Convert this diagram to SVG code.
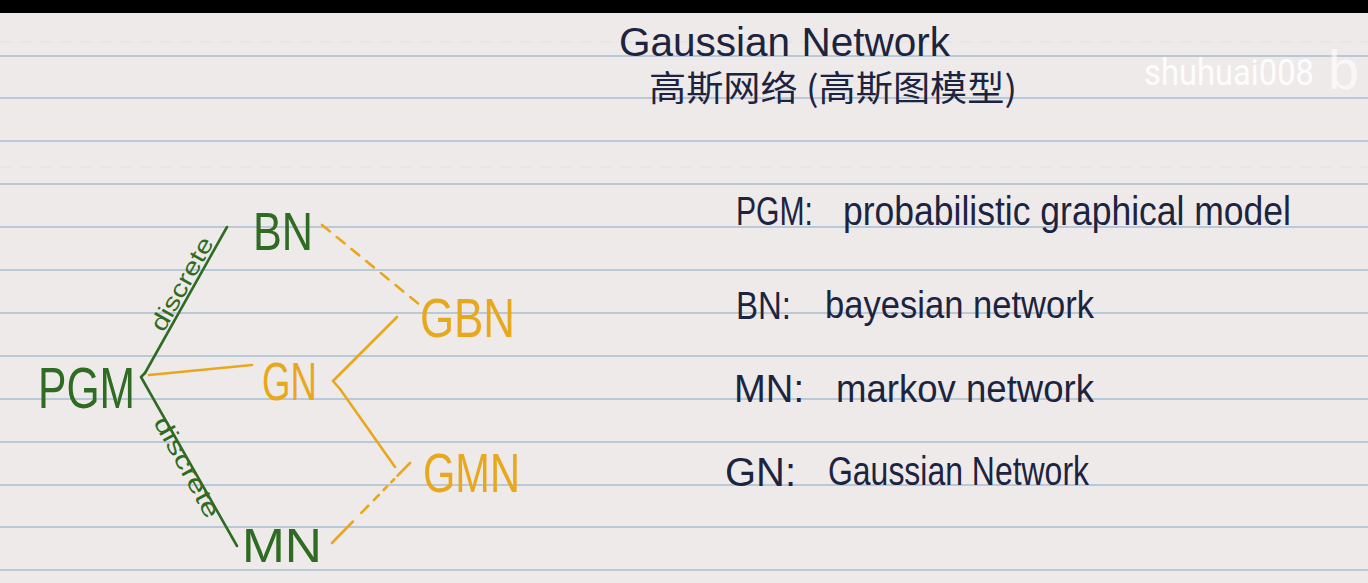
<svg xmlns="http://www.w3.org/2000/svg" width="1368" height="583" viewBox="0 0 1368 583">
<defs>
<style>
.rule{stroke:#b9c9d8;stroke-width:2}
.faint{stroke:#e7e3e5;stroke-width:1.5;stroke-dasharray:12 8}
.hand{font-family:"Liberation Sans","DejaVu Sans",sans-serif;font-weight:normal}
.navy{fill:#1c2440}
.green{fill:#2f6b22}
.orange{fill:#e8a81e}
.gline{stroke:#2f6b22;stroke-width:2.6;fill:none;stroke-linecap:round;stroke-linejoin:round}
.oline{stroke:#e8a81e;stroke-width:2.6;fill:none;stroke-linecap:round;stroke-linejoin:round}
.cjk{font-family:"Noto Sans CJK SC","Noto Sans CJK TC",sans-serif}
</style>
</defs>
<rect width="1368" height="583" fill="#efeaea"/>
<rect width="1368" height="13" fill="#000"/>
<g id="paper">
<line class="faint" x1="0" y1="42" x2="1368" y2="42"/>
<line class="faint" x1="0" y1="167" x2="1368" y2="167"/>
<line class="rule" x1="0" y1="56" x2="1368" y2="56"/>
<line class="rule" x1="0" y1="98" x2="1368" y2="98"/>
<line class="rule" x1="0" y1="141" x2="1368" y2="141"/>
<line class="rule" x1="0" y1="184" x2="1368" y2="184"/>
<line class="rule" x1="0" y1="227" x2="1368" y2="227"/>
<line class="rule" x1="0" y1="270" x2="1368" y2="270"/>
<line class="rule" x1="0" y1="313" x2="1368" y2="313"/>
<line class="rule" x1="0" y1="356" x2="1368" y2="356"/>
<line class="rule" x1="0" y1="399" x2="1368" y2="399"/>
<line class="rule" x1="0" y1="442" x2="1368" y2="442"/>
<line class="rule" x1="0" y1="485" x2="1368" y2="485"/>
<line class="rule" x1="0" y1="527" x2="1368" y2="527"/>
<line class="rule" x1="0" y1="570" x2="1368" y2="570"/>
</g>
<g id="title">
<text class="hand navy" x="619" y="56" font-size="41" textLength="331" lengthAdjust="spacingAndGlyphs">Gaussian Network</text>
<text class="cjk navy" x="649" y="101" font-size="35" textLength="368" lengthAdjust="spacingAndGlyphs">高斯网络 (高斯图模型)</text>
</g>
<g id="watermark" fill="#ffffff">
<text x="1144" y="85" font-family="Roboto,'Liberation Sans',sans-serif" font-size="36" textLength="170" lengthAdjust="spacingAndGlyphs" opacity="0.9">shuhuai008</text>
<text x="1328" y="89" font-family="'Liberation Sans',sans-serif" font-size="56" opacity="0.6">b</text>
</g>
<g id="connectors">
<path class="gline" d="M145 373 L227 227"/>
<path class="gline" d="M145 373 L141 377 L237 546"/>
<path class="oline" d="M149 375 L252 365"/>
<path class="oline" d="M397 317 L333 381 L340 389 L395 467"/>
<path class="oline" d="M322 225 L420 305" stroke-dasharray="10 9" stroke-width="2.4"/>
<path class="oline" d="M332 543 L410 463" stroke-dasharray="30 12 10 8 7 7 5 6 4 5" stroke-width="2.4"/>
<text class="hand green" font-size="24" text-anchor="middle" textLength="104" lengthAdjust="spacingAndGlyphs" transform="translate(189 288) rotate(-60.7)">discrete</text>
<text class="hand green" font-size="24" text-anchor="middle" textLength="112" lengthAdjust="spacingAndGlyphs" transform="translate(180 471) rotate(61.3)">discrete</text>
</g>
<g id="node-PGM"><text class="hand green" x="38" y="408" font-size="58" textLength="97" lengthAdjust="spacingAndGlyphs">PGM</text></g>
<g id="node-BN"><text class="hand green" x="253" y="250" font-size="54" textLength="60" lengthAdjust="spacingAndGlyphs">BN</text></g>
<g id="node-GN"><text class="hand orange" x="262" y="400" font-size="54" textLength="55" lengthAdjust="spacingAndGlyphs">GN</text></g>
<g id="node-MN"><text class="hand green" x="242" y="562" font-size="48" textLength="80" lengthAdjust="spacingAndGlyphs">MN</text></g>
<g id="node-GBN"><text class="hand orange" x="420" y="337" font-size="56" textLength="95" lengthAdjust="spacingAndGlyphs">GBN</text></g>
<g id="node-GMN"><text class="hand orange" x="423" y="492" font-size="56" textLength="97" lengthAdjust="spacingAndGlyphs">GMN</text></g>
<g id="legend" class="hand navy">
<text x="736" y="225" font-size="40" textLength="77" lengthAdjust="spacingAndGlyphs">PGM:</text>
<text x="843" y="225" font-size="40" textLength="448" lengthAdjust="spacingAndGlyphs">probabilistic graphical model</text>
<text x="736" y="319" font-size="38" textLength="55" lengthAdjust="spacingAndGlyphs">BN:</text>
<text x="825" y="318" font-size="38" textLength="269" lengthAdjust="spacingAndGlyphs">bayesian network</text>
<text x="734" y="402" font-size="38" textLength="70" lengthAdjust="spacingAndGlyphs">MN:</text>
<text x="836" y="402" font-size="38" textLength="258" lengthAdjust="spacingAndGlyphs">markov network</text>
<text x="725" y="486" font-size="40" textLength="71" lengthAdjust="spacingAndGlyphs">GN:</text>
<text x="828" y="485" font-size="40" textLength="261" lengthAdjust="spacingAndGlyphs">Gaussian Network</text>
</g>
</svg>
